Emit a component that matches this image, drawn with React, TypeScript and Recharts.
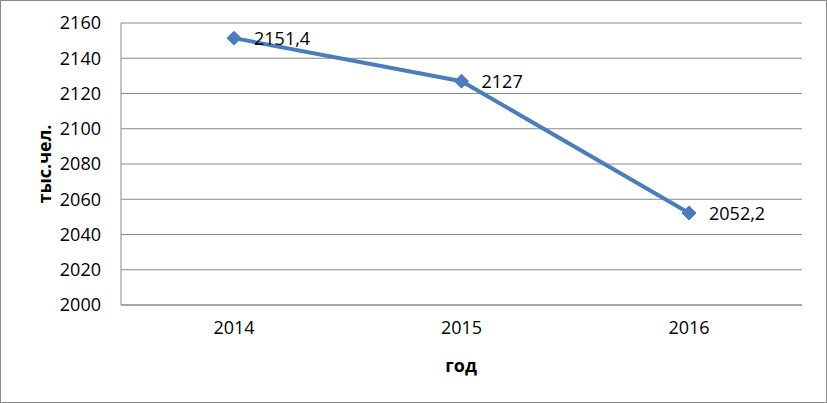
import { LineChart, Line, XAxis, YAxis, CartesianGrid, LabelList } from "recharts";

const years = ["2014", "2015", "2016"];
const population = [2151.4, 2127, 2052.2];
const yTicks = [2000, 2020, 2040, 2060, 2080, 2100, 2120, 2140, 2160];

const data = years.map((year, i) => ({ year, value: population[i] }));

const FONT = "'Open Sans', sans-serif";
const BLUE = "#4a7ebb";
const GRID = "#898989";

function Diamond(props: any) {
  const { cx, cy, index } = props;
  if (cx == null || cy == null) return null;
  const r = 7;
  return (
    <path
      key={`dot-${index}`}
      d={`M${cx},${cy - r} L${cx + r},${cy} L${cx},${cy + r} L${cx - r},${cy} Z`}
      fill={BLUE}
      stroke={BLUE}
      strokeWidth={1}
    />
  );
}

function ValueLabel(props: any) {
  const { x, y, value } = props;
  const text = String(value).replace(".", ",");
  return (
    <text x={x + 20} y={y + 7} fontSize={18} fontFamily={FONT} fill="#000">
      {text}
    </text>
  );
}

export default function App() {
  return (
    <div
      style={{
        position: "absolute",
        left: 0,
        top: 0,
        width: 827,
        height: 403,
        boxSizing: "border-box",
        border: "1px solid #8c8c8c",
        background: "#fff",
      }}
    >
      <div style={{ position: "absolute", left: -1, top: -1 }}>
        <LineChart width={827} height={403} data={data} margin={{ top: 23, right: 25, left: 0, bottom: 28 }}>
          <CartesianGrid vertical={false} stroke={GRID} strokeWidth={1} />
          <XAxis
            dataKey="year"
            padding={{ left: 113, right: 113 }}
            axisLine={{ stroke: GRID }}
            tickLine={false}
            tickSize={0}
            tickMargin={16}
            height={70}
            tick={{ fontSize: 18, fontFamily: FONT, fill: "#000" }}
            label={{
              content: (p: any) => {
                const vb = p.viewBox;
                return (
                  <text
                    x={461}
                    y={vb.y + 67}
                    textAnchor="middle"
                    fontSize={18}
                    fontWeight="bold"
                    fontFamily={FONT}
                    fill="#000"
                  >
                    год
                  </text>
                );
              },
            }}
          />
          <YAxis
            domain={[2000, 2160]}
            ticks={yTicks}
            interval={0}
            width={121}
            axisLine={{ stroke: GRID }}
            tickLine={false}
            tickSize={0}
            tickMargin={20}
            tick={{ fontSize: 18, fontFamily: FONT, fill: "#000" }}
            label={{
              content: (p: any) => {
                const vb = p.viewBox;
                const cx = 51;
                const cy = vb.y + vb.height / 2;
                return (
                  <text
                    x={cx}
                    y={cy}
                    transform={`rotate(-90 ${cx} ${cy})`}
                    textAnchor="middle"
                    fontSize={18}
                    fontWeight="bold"
                    fontFamily={FONT}
                    fill="#000"
                  >
                    тыс.чел.
                  </text>
                );
              },
            }}
          />
          <Line
            type="linear"
            dataKey="value"
            stroke={BLUE}
            strokeWidth={4}
            dot={Diamond}
            activeDot={false}
            isAnimationActive={false}
          >
            <LabelList dataKey="value" content={ValueLabel} />
          </Line>
        </LineChart>
      </div>
    </div>
  );
}
